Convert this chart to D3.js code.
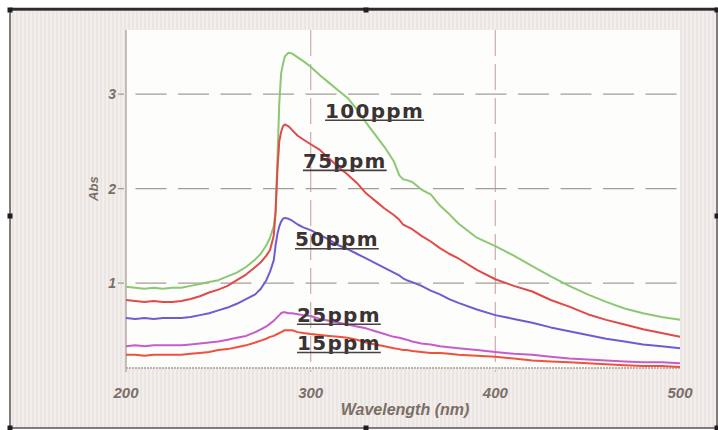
<!DOCTYPE html>
<html>
<head>
<meta charset="utf-8">
<script src="https://cdn.jsdelivr.net/npm/d3@7"></script>
<style>
  html, body { margin: 0; padding: 0; background: #fff; }
  svg { display: block; }
</style>
</head>
<body>
<div id="chart"></div>
<script>
// wavelength grid (nm), shared by every spectrum
const wavelengths = [
  200, 205, 210, 215, 220, 225, 230, 235, 240, 245, 250, 255, 260, 265, 270,
  273, 276, 278, 280, 281, 282, 283, 284, 285, 286, 288, 290, 293, 296, 300,
  305, 310, 315, 320, 325, 330, 335, 340, 345, 348, 350, 352, 355, 360, 365,
  370, 375, 380, 390, 400, 410, 420, 430, 440, 450, 460, 470, 480, 490, 500,
];

// absorbance
const abs100 = [
  0.96, 0.95, 0.94, 0.95, 0.94, 0.95, 0.95, 0.97, 0.99, 1.01, 1.03, 1.07, 1.11, 1.17, 1.25,
  1.31, 1.40, 1.48, 1.60, 1.75, 2.30, 2.90, 3.22, 3.32, 3.40, 3.44, 3.43, 3.39, 3.35, 3.29,
  3.20, 3.12, 3.04, 2.96, 2.84, 2.70, 2.57, 2.44, 2.29, 2.14, 2.10, 2.09, 2.07, 1.99, 1.94,
  1.82, 1.73, 1.63, 1.48, 1.39, 1.29, 1.18, 1.07, 0.97, 0.88, 0.80, 0.73, 0.68, 0.64, 0.61,
];
const abs75 = [
  0.82, 0.81, 0.80, 0.81, 0.80, 0.80, 0.81, 0.83, 0.86, 0.90, 0.93, 0.97, 1.03, 1.09, 1.17,
  1.22, 1.29, 1.35, 1.50, 1.75, 2.20, 2.50, 2.60, 2.66, 2.68, 2.66, 2.62, 2.56, 2.52, 2.47,
  2.41, 2.32, 2.23, 2.15, 2.06, 1.95, 1.87, 1.79, 1.72, 1.67, 1.62, 1.60, 1.57, 1.50, 1.44,
  1.37, 1.31, 1.26, 1.14, 1.04, 0.97, 0.91, 0.82, 0.75, 0.67, 0.61, 0.56, 0.51, 0.47, 0.43,
];
const abs50 = [
  0.63, 0.62, 0.63, 0.62, 0.63, 0.63, 0.63, 0.64, 0.66, 0.68, 0.71, 0.74, 0.78, 0.83, 0.88,
  0.94, 1.03, 1.12, 1.24, 1.40, 1.52, 1.60, 1.65, 1.68, 1.69, 1.68, 1.66, 1.62, 1.59, 1.56,
  1.51, 1.46, 1.40, 1.36, 1.31, 1.26, 1.21, 1.16, 1.11, 1.08, 1.05, 1.03, 1.01, 0.97, 0.92,
  0.88, 0.83, 0.79, 0.72, 0.66, 0.62, 0.58, 0.53, 0.49, 0.45, 0.41, 0.38, 0.35, 0.33, 0.31,
];
const abs25 = [
  0.33, 0.34, 0.33, 0.34, 0.34, 0.34, 0.34, 0.35, 0.36, 0.37, 0.38, 0.40, 0.42, 0.44, 0.48,
  0.51, 0.54, 0.57, 0.60, 0.62, 0.64, 0.66, 0.68, 0.69, 0.69, 0.68, 0.68, 0.67, 0.66, 0.65,
  0.62, 0.60, 0.58, 0.56, 0.54, 0.52, 0.49, 0.46, 0.43, 0.42, 0.41, 0.40, 0.38, 0.36, 0.35,
  0.33, 0.32, 0.31, 0.29, 0.27, 0.25, 0.24, 0.22, 0.20, 0.19, 0.18, 0.17, 0.16, 0.16, 0.15,
];
const abs15 = [
  0.24, 0.24, 0.23, 0.24, 0.24, 0.24, 0.24, 0.25, 0.26, 0.27, 0.29, 0.30, 0.32, 0.34, 0.37,
  0.39, 0.41, 0.43, 0.44, 0.45, 0.46, 0.47, 0.48, 0.49, 0.50, 0.50, 0.50, 0.48, 0.47, 0.46,
  0.45, 0.44, 0.43, 0.42, 0.40, 0.37, 0.35, 0.33, 0.31, 0.30, 0.29, 0.29, 0.28, 0.27, 0.26,
  0.26, 0.25, 0.24, 0.23, 0.22, 0.20, 0.18, 0.17, 0.16, 0.15, 0.14, 0.13, 0.12, 0.12, 0.11,
];

const seriesNames = ["100ppm", "75ppm", "50ppm", "25ppm", "15ppm"];
const seriesValues = [abs100, abs75, abs50, abs25, abs15];
const seriesColors = ["#8cc874", "#e04a4a", "#6e5cd2", "#c65ccc", "#f0503c"];
// where each label sits (wavelength, absorbance of the text baseline start)
const labelAnchors = [[307.8, 2.75], [295.8, 2.22], [291.5, 1.39], [292.6, 0.59], [292.6, 0.29]];

const xTicks = [200, 300, 400, 500];
const yTicks = [1, 2, 3];
const xGridTicks = [300, 400];

const width = 718;
const height = 430;
const plot = { left: 126, top: 30, right: 680, bottom: 368 };
const frame = { left: 10, top: 10, right: 717, bottom: 428 };

const x = d3.scaleLinear().domain([200, 500]).range([plot.left, plot.right]);
const y = d3.scaleLinear().domain([0.1, 3.68]).range([plot.bottom, plot.top]);

const svg = d3
  .select("#chart")
  .append("svg")
  .attr("width", width)
  .attr("height", height);

const defs = svg.append("defs");
const stripes = defs
  .append("pattern")
  .attr("id", "stripes")
  .attr("patternUnits", "userSpaceOnUse")
  .attr("width", 4)
  .attr("height", 4);
stripes.append("rect").attr("width", 4).attr("height", 4).attr("fill", "#f2eeec");
stripes.append("rect").attr("width", 2).attr("height", 4).attr("fill", "#ebe5e3");

svg.append("rect").attr("width", width).attr("height", height).attr("fill", "#ffffff");

svg
  .append("rect")
  .attr("x", frame.left)
  .attr("y", frame.top)
  .attr("width", frame.right - frame.left)
  .attr("height", frame.bottom - frame.top)
  .attr("fill", "url(#stripes)");

svg
  .append("rect")
  .attr("x", plot.left)
  .attr("y", plot.top)
  .attr("width", plot.right - plot.left)
  .attr("height", plot.bottom - plot.top)
  .attr("fill", "#fdfdfc");

// grid
svg
  .append("g")
  .selectAll("line")
  .data(xGridTicks)
  .join("line")
  .attr("x1", (d) => x(d))
  .attr("x2", (d) => x(d))
  .attr("y1", plot.top)
  .attr("y2", plot.bottom + 4)
  .attr("stroke", "#d2b2b2")
  .attr("stroke-width", 1.3)
  .attr("stroke-dasharray", "26,8");

svg
  .append("g")
  .selectAll("line")
  .data(yTicks)
  .join("line")
  .attr("x1", plot.left - 8)
  .attr("x2", plot.right)
  .attr("y1", (d) => y(d))
  .attr("y2", (d) => y(d))
  .attr("stroke", "#a59d97")
  .attr("stroke-width", 1.3)
  .attr("stroke-dasharray", "31,11.5")
  .attr("stroke-dashoffset", 25);

// axes
svg
  .append("line")
  .attr("x1", plot.left)
  .attr("x2", plot.left)
  .attr("y1", plot.top)
  .attr("y2", plot.bottom + 4)
  .attr("stroke", "#b3aaa4")
  .attr("stroke-width", 1.5);

svg
  .append("line")
  .attr("x1", plot.left)
  .attr("x2", plot.right)
  .attr("y1", plot.bottom)
  .attr("y2", plot.bottom)
  .attr("stroke", "#bdb3ad")
  .attr("stroke-width", 2)
  .attr("stroke-dasharray", "2,1");

const tickFont = "'Liberation Sans', Arial, sans-serif";

svg
  .append("g")
  .selectAll("text")
  .data(xTicks)
  .join("text")
  .attr("x", (d) => x(d))
  .attr("y", 398)
  .attr("text-anchor", "middle")
  .attr("font-family", tickFont)
  .attr("font-size", 15)
  .attr("font-weight", "bold")
  .attr("font-style", "italic")
  .attr("fill", "#7b6e66")
  .text((d) => d);

svg
  .append("g")
  .selectAll("text")
  .data(yTicks)
  .join("text")
  .attr("x", plot.left - 10)
  .attr("y", (d) => y(d))
  .attr("dy", "0.35em")
  .attr("text-anchor", "end")
  .attr("font-family", tickFont)
  .attr("font-size", 14)
  .attr("font-weight", "bold")
  .attr("font-style", "italic")
  .attr("fill", "#7b6e66")
  .text((d) => d);

svg
  .append("text")
  .attr("x", (plot.left + plot.right) / 2 + 2)
  .attr("y", 415)
  .attr("text-anchor", "middle")
  .attr("font-family", tickFont)
  .attr("font-size", 16)
  .attr("font-weight", "bold")
  .attr("font-style", "italic")
  .attr("fill", "#7b6e66")
  .text("Wavelength (nm)");

svg
  .append("text")
  .attr("transform", `translate(98,${y(2)}) rotate(-90)`)
  .attr("text-anchor", "middle")
  .attr("font-family", tickFont)
  .attr("font-size", 13)
  .attr("font-weight", "bold")
  .attr("font-style", "italic")
  .attr("fill", "#7b6e66")
  .text("Abs");

// spectra
const line = d3
  .line()
  .x((d) => x(d[0]))
  .y((d) => y(d[1]));

svg
  .append("g")
  .attr("fill", "none")
  .attr("stroke-width", 2)
  .attr("stroke-linejoin", "round")
  .selectAll("path")
  .data(seriesValues)
  .join("path")
  .attr("stroke", (_, i) => seriesColors[i])
  .attr("d", (vals) => line(wavelengths.map((w, j) => [w, vals[j]])));

// concentration labels, underlined
const labelG = svg
  .append("g")
  .selectAll("g")
  .data(seriesNames)
  .join("g")
  .attr("transform", (_, i) => `translate(${x(labelAnchors[i][0])},${y(labelAnchors[i][1])})`);

labelG
  .append("text")
  .attr("font-family", "'DejaVu Sans', sans-serif")
  .attr("font-size", 20)
  .attr("font-weight", "bold")
  .attr("letter-spacing", 1.3)
  .attr("fill", "#3b3333")
  .text((d) => d);

labelG.each(function () {
  const g = d3.select(this);
  const w = g.select("text").node().getComputedTextLength();
  g.append("line")
    .attr("x1", 0)
    .attr("x2", w)
    .attr("y1", 2.5)
    .attr("y2", 2.5)
    .attr("stroke", "#4a4040")
    .attr("stroke-width", 1.6);
});

// outer frame with handles
svg
  .append("rect")
  .attr("x", frame.left)
  .attr("y", frame.top)
  .attr("width", frame.right - frame.left)
  .attr("height", frame.bottom - frame.top)
  .attr("fill", "none")
  .attr("stroke", "#5a5456")
  .attr("stroke-width", 1.5);

svg
  .append("line")
  .attr("x1", frame.left)
  .attr("x2", frame.right)
  .attr("y1", frame.top - 1)
  .attr("y2", frame.top - 1)
  .attr("stroke", "#2c2a2c")
  .attr("stroke-width", 2.5);

const midX = 366;
const midY = 216;
const handles = [
  [frame.left, frame.top], [midX, frame.top], [frame.right, frame.top],
  [frame.left, midY], [frame.right, midY],
  [frame.left, frame.bottom], [midX, frame.bottom], [frame.right, frame.bottom],
];
svg
  .append("g")
  .selectAll("rect")
  .data(handles)
  .join("rect")
  .attr("x", (d) => d[0] - 2.5)
  .attr("y", (d) => d[1] - 2.5)
  .attr("width", 5)
  .attr("height", 5)
  .attr("fill", "#1e1c1e");
</script>
</body>
</html>
